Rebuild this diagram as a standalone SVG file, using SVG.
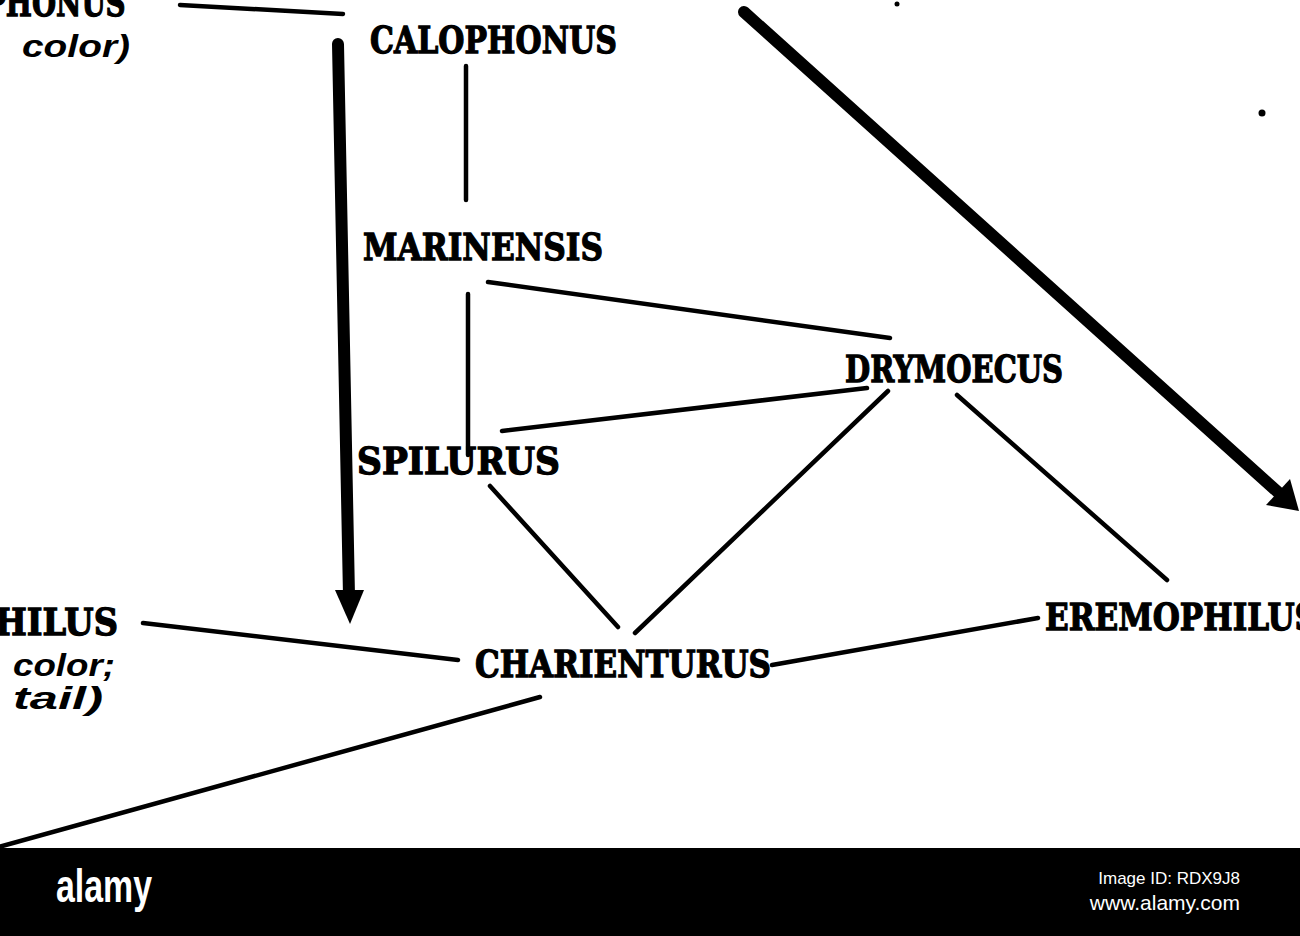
<svg xmlns="http://www.w3.org/2000/svg" width="1300" height="936" viewBox="0 0 1300 936">
<style>
.lbl{font-family:"DejaVu Serif","Liberation Serif",serif;font-weight:bold;font-size:38px;fill:#000;stroke:#000;stroke-width:1.3}
.it{font-family:"Liberation Sans","DejaVu Sans",sans-serif;font-weight:bold;font-style:italic;font-size:31px;fill:#000}
.thin{stroke:#000;stroke-width:4.5;stroke-linecap:round;fill:none}
.thick{stroke:#000;stroke-width:12;stroke-linecap:round;fill:none}
.wm{font-family:"Liberation Sans","DejaVu Sans",sans-serif;fill:#fff}
</style>
<rect width="1300" height="936" fill="#fff"/>
<g id="connectors">
<line class="thin" x1="180" y1="5" x2="343" y2="14"/>
<line class="thin" x1="466" y1="66" x2="466" y2="200"/>
<line class="thin" x1="468" y1="294" x2="468" y2="455"/>
<line class="thin" x1="488" y1="282" x2="890" y2="338"/>
<line class="thin" x1="502" y1="431" x2="867" y2="388"/>
<line class="thin" x1="888" y1="391" x2="635" y2="633"/>
<line class="thin" x1="490" y1="486" x2="618" y2="627"/>
<line class="thin" x1="957" y1="395" x2="1167" y2="580"/>
<line class="thin" x1="772" y1="665" x2="1038" y2="618"/>
<line class="thin" x1="143" y1="623" x2="458" y2="660"/>
<line class="thin" x1="540" y1="697" x2="-5" y2="848"/>
<line class="thick" x1="338" y1="44" x2="349" y2="596"/>
<polygon points="335,590 364,590 350,624" fill="#000"/>
<line class="thick" x1="744" y1="12" x2="1280" y2="494"/>
<polygon points="1299,511 1266,505 1290,479" fill="#000"/>
</g>
<g id="n-phonus"><text class="lbl" x="-15" y="16" textLength="155" lengthAdjust="spacingAndGlyphs">PHONUS"</text>
<text class="it" x="22" y="57" textLength="108" lengthAdjust="spacingAndGlyphs">color)</text></g>
<g id="n-calophonus"><text class="lbl" x="370" y="53" textLength="247" lengthAdjust="spacingAndGlyphs">CALOPHONUS</text></g>
<g id="n-marinensis"><text class="lbl" x="363" y="260" textLength="240" lengthAdjust="spacingAndGlyphs">MARINENSIS</text></g>
<g id="n-drymoecus"><text class="lbl" x="845" y="382" textLength="218" lengthAdjust="spacingAndGlyphs">DRYMOECUS</text></g>
<g id="n-spilurus"><text class="lbl" x="357" y="474" textLength="203" lengthAdjust="spacingAndGlyphs">SPILURUS</text></g>
<g id="n-charienturus"><text class="lbl" x="475" y="677" textLength="296" lengthAdjust="spacingAndGlyphs">CHARIENTURUS</text></g>
<g id="n-eremophilus"><text class="lbl" x="1045" y="630" textLength="272" lengthAdjust="spacingAndGlyphs">EREMOPHILUS</text></g>
<g id="n-hilus"><text class="lbl" x="-5" y="635" textLength="123" lengthAdjust="spacingAndGlyphs">HILUS</text>
<text class="it" x="13" y="676" textLength="102" lengthAdjust="spacingAndGlyphs">color;</text>
<text class="it" x="13" y="709" textLength="90" lengthAdjust="spacingAndGlyphs">tail)</text></g>
<circle cx="897" cy="4" r="2.5" fill="#000"/>
<circle cx="1262" cy="113" r="3.5" fill="#000"/>
<g id="watermark">
<rect x="0" y="848" width="1300" height="88" fill="#000"/>
<text class="wm" x="56" y="902" font-size="46" font-weight="bold" textLength="96" lengthAdjust="spacingAndGlyphs">alamy</text>
<text class="wm" x="1240" y="884" font-size="17" text-anchor="end">Image ID: RDX9J8</text>
<text class="wm" x="1240" y="910" font-size="21" text-anchor="end">www.alamy.com</text>
</g>
</svg>
